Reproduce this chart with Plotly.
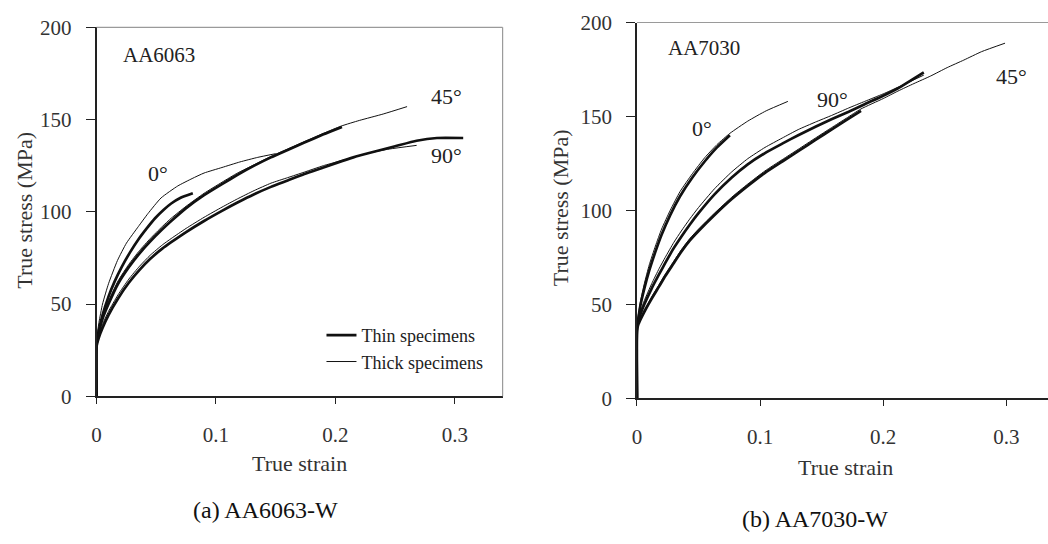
import plotly.graph_objects as go

W, H = 1048, 544

# ---------------- AA6063 (left panel) ----------------
# 0 deg, thick specimen (thin line)
a_0_thick_x = [0, 0, 0.002, 0.005, 0.01, 0.0175, 0.025, 0.035, 0.043, 0.054, 0.068, 0.08, 0.09, 0.105, 0.12, 0.135, 0.15]
a_0_thick_y = [0, 30, 40, 50, 61, 73.6, 83, 92, 99, 107.5, 114, 118, 121, 124, 127, 129.5, 131.5]
# 0 deg, thin specimen (thick line)
a_0_thin_x = [0, 0, 0.002, 0.005, 0.01, 0.015, 0.021, 0.028, 0.035, 0.042, 0.049, 0.056, 0.0625, 0.07, 0.0806]
a_0_thin_y = [0, 29, 36, 44, 54, 62, 70, 78, 85, 91, 96.5, 101, 104.5, 107.5, 110]
# 45 deg, thin specimen (thick line)
a_45_thin_x = [0, 0, 0.002, 0.005, 0.01, 0.018, 0.027, 0.036, 0.045, 0.055, 0.0625, 0.075, 0.09, 0.105, 0.118, 0.132, 0.146, 0.16, 0.174, 0.19, 0.2055]
a_45_thin_y = [0, 28, 35, 42, 50, 61, 70, 77.5, 84, 90.5, 95, 102, 109, 115, 120, 125, 129.5, 133.5, 137.5, 142, 146]
# 45 deg, thick specimen (thin line)
a_45_thick_x = [0, 0, 0.002, 0.005, 0.01, 0.018, 0.027, 0.036, 0.045, 0.055, 0.0625, 0.075, 0.09, 0.105, 0.118, 0.132, 0.146, 0.16, 0.174, 0.19, 0.205, 0.22, 0.24, 0.26]
a_45_thick_y = [0, 29, 36, 43.5, 51.5, 62.5, 71.5, 79, 85.5, 92, 96.5, 103, 110, 116, 121, 125.5, 130, 134, 138, 142.5, 146.5, 149.5, 153, 157]
# 90 deg, thick specimen (thin line)
a_90_thick_x = [0, 0, 0.002, 0.005, 0.01, 0.018, 0.027, 0.036, 0.045, 0.055, 0.0625, 0.075, 0.09, 0.105, 0.118, 0.132, 0.146, 0.16, 0.174, 0.19, 0.201, 0.215, 0.229, 0.245, 0.268]
a_90_thick_y = [0, 28, 33, 39, 46, 55, 63.5, 70.5, 76.5, 82, 85.5, 91, 97, 102.5, 107, 111.5, 115.5, 118.5, 121.5, 125, 127, 129.5, 132, 134, 136]
# 90 deg, thin specimen (thick line)
a_90_thin_x = [0, 0, 0.002, 0.005, 0.01, 0.018, 0.027, 0.036, 0.045, 0.055, 0.0625, 0.075, 0.09, 0.105, 0.118, 0.132, 0.146, 0.16, 0.174, 0.19, 0.201, 0.215, 0.229, 0.25, 0.268, 0.285, 0.307]
a_90_thin_y = [0, 27, 32, 37, 44, 53, 61.5, 68.5, 74.5, 80, 83.5, 89, 95, 100.5, 105, 109.5, 113.5, 117, 120.5, 124, 126.5, 129.5, 132, 135.5, 138.5, 140, 140]

# ---------------- AA7030 (right panel) ----------------
b_0_thick_x = [0, 0, 0.001, 0.003, 0.006, 0.01, 0.015, 0.02, 0.027, 0.035, 0.045, 0.055, 0.065, 0.0755, 0.09, 0.105, 0.1226]
b_0_thick_y = [0, 38, 44, 52, 61, 71, 81, 90, 100, 110, 119.5, 128, 135, 141, 147.5, 153, 158]
b_0_thin_x = [0, 0, 0.001, 0.003, 0.006, 0.01, 0.015, 0.02, 0.027, 0.035, 0.045, 0.055, 0.065, 0.0755]
b_0_thin_y = [0, 37, 42, 50, 58.5, 68, 78, 87, 97.5, 107.5, 117.5, 126, 133.5, 140]

b_90_thick_x = [0, 0, 0.001, 0.003, 0.006, 0.012, 0.018, 0.023, 0.03, 0.036, 0.043, 0.05, 0.063, 0.077, 0.09, 0.104, 0.118, 0.131, 0.145, 0.158, 0.172, 0.185, 0.2, 0.212, 0.233]
b_90_thick_y = [0, 38, 42, 46.5, 52, 61, 69, 75, 83, 89, 95.5, 101.5, 111.5, 120.5, 127.5, 133.5, 138.5, 143, 147, 150.5, 154.5, 158, 162, 165.5, 172]
b_90_thin_x = [0, 0, 0.001, 0.003, 0.006, 0.012, 0.018, 0.023, 0.03, 0.036, 0.043, 0.05, 0.063, 0.077, 0.09, 0.104, 0.118, 0.131, 0.145, 0.158, 0.172, 0.185, 0.2, 0.212, 0.233]
b_90_thin_y = [0, 37, 41, 45, 50, 58.5, 66, 72, 80, 86, 92.5, 98.5, 108.5, 117.5, 124.5, 130.5, 135.5, 140, 144.5, 148.5, 152.5, 156.5, 161, 165, 173.5]

b_45_thin_x = [0, 0, 0.001, 0.003, 0.006, 0.012, 0.018, 0.023, 0.03, 0.036, 0.043, 0.05, 0.063, 0.077, 0.09, 0.104, 0.118, 0.131, 0.145, 0.158, 0.17, 0.182]
b_45_thin_y = [0, 36, 39, 42, 46, 53, 59.5, 65, 72, 78, 84, 89, 97.5, 106, 113, 120, 126, 131.5, 137.5, 143, 148, 153]
b_45_thick_x = [0, 0, 0.001, 0.003, 0.006, 0.012, 0.018, 0.023, 0.03, 0.036, 0.043, 0.05, 0.063, 0.077, 0.09, 0.104, 0.118, 0.131, 0.145, 0.158, 0.17, 0.182, 0.2, 0.212, 0.225, 0.2385, 0.252, 0.2655, 0.28, 0.299]
b_45_thick_y = [0, 36, 40, 43, 47, 54, 60.5, 66, 73, 79, 85, 90, 98.5, 107, 114, 121, 127, 132.5, 138.5, 144, 149, 154, 159.5, 163.5, 167.5, 171.5, 176, 180, 184.5, 189]

x_ticks = [0, 0.1, 0.2, 0.3]
x_tick_text = ["0", "0.1", "0.2", "0.3"]
y_ticks = [0, 50, 100, 150, 200]
y_tick_text = ["0", "50", "100", "150", "200"]

SERIF = "Liberation Serif, Times New Roman, serif"
THICK_W = 2.7
THIN_W = 1.0
LC = "#111111"


def px(x):
    return x / W


def py(y):
    return 1 - y / H


fig = go.Figure()


def add(xs, ys, width, ax, name=None, show=False, rank=1000):
    fig.add_trace(go.Scatter(
        x=xs, y=ys, mode="lines",
        line=dict(color=LC, width=width, shape="spline", smoothing=0.5),
        xaxis=ax[0], yaxis=ax[1], cliponaxis=True,
        name=name, showlegend=show, legendrank=rank, hoverinfo="skip"))


L = ("x", "y")
R = ("x2", "y2")
add(a_90_thin_x, a_90_thin_y, THICK_W, L, "Thin specimens", True, 1)
add(a_90_thick_x, a_90_thick_y, THIN_W, L, "Thick specimens", True, 2)
add(a_0_thick_x, a_0_thick_y, THIN_W, L)
add(a_0_thin_x, a_0_thin_y, THICK_W, L)
add(a_45_thin_x, a_45_thin_y, THICK_W, L)
add(a_45_thick_x, a_45_thick_y, THIN_W, L)

add(b_0_thick_x, b_0_thick_y, THIN_W, R)
add(b_0_thin_x, b_0_thin_y, THICK_W, R)
add(b_90_thick_x, b_90_thick_y, THIN_W, R)
add(b_90_thin_x, b_90_thin_y, THICK_W, R)
add(b_45_thin_x, b_45_thin_y, THICK_W, R)
add(b_45_thick_x, b_45_thick_y, THIN_W, R)

tickfont = dict(family=SERIF, size=21, color="#333333")
common_x = dict(tickvals=x_ticks, ticktext=x_tick_text, ticks="outside", ticklen=6,
                tickwidth=1.2, tickcolor="#222", showline=True, linecolor="#222",
                linewidth=1.5, showgrid=False, zeroline=False, tickfont=tickfont,
                ticklabelstandoff=13, fixedrange=True)
common_y = dict(tickvals=y_ticks, ticktext=y_tick_text, ticks="outside", ticklen=9,
                tickwidth=1.2, tickcolor="#222", showline=True, linecolor="#222",
                linewidth=1.5, showgrid=False, zeroline=False, tickfont=tickfont,
                ticklabelstandoff=10, range=[0, 200], fixedrange=True)

fig.update_layout(
    width=W, height=H,
    margin=dict(l=0, r=0, t=0, b=0),
    paper_bgcolor="white", plot_bgcolor="white",
    xaxis=dict(domain=[px(92), px(500)], range=[0, 0.34], anchor="y", **common_x),
    yaxis=dict(domain=[py(402), py(16)], anchor="x", **common_y),
    xaxis2=dict(domain=[px(635), 1.0], range=[0, 0.3339], anchor="y2", **common_x),
    yaxis2=dict(domain=[py(404), py(11)], anchor="x2", **common_y),
    legend=dict(x=px(318), y=py(319), xanchor="left", yanchor="top",
                font=dict(family=SERIF, size=18, color="#222"),
                bgcolor="rgba(0,0,0,0)", itemwidth=30, tracegroupgap=0),
    showlegend=True,
)

border = dict(color="#9a9a9a", width=1.2)
fig.add_shape(type="line", xref="x domain", yref="y domain", x0=0, x1=1, y0=1, y1=1, line=border)
fig.add_shape(type="line", xref="x domain", yref="y domain", x0=1, x1=1, y0=0, y1=1, line=border)
fig.add_shape(type="line", xref="x2 domain", yref="y2 domain", x0=0, x1=1, y0=1, y1=1, line=border)


def label(text, x, y, size=21, color="#222", angle=0):
    fig.add_annotation(text=text, x=px(x), y=py(y), xref="paper", yref="paper",
                       showarrow=False, xanchor="center", yanchor="middle",
                       textangle=angle, font=dict(family=SERIF, size=size, color=color))


label("AA6063", 155, 45, 21)
label("0°", 154, 169, 22)
label("45°", 444, 88, 22)
label("90°", 444, 150, 22)
label("True strain", 296, 472, 22, "#333")
label("True stress (MPa)", 20, 207, 22, "#333", -90)
label("(a) AA6063-W", 262, 521, 24, "#111")

label("AA7030", 702, 38, 21)
label("0°", 700, 122, 22)
label("90°", 831, 92, 22)
label("45°", 1011, 67, 22)
label("True strain", 845, 477, 22, "#333")
label("True stress (MPa)", 559, 205, 22, "#333", -90)
label("(b) AA7030-W", 814, 530, 24, "#111")

fig.write_html("out.html", config={"displayModeBar": False},
               post_script="document.body.style.margin='0';document.body.style.overflow='hidden';")
